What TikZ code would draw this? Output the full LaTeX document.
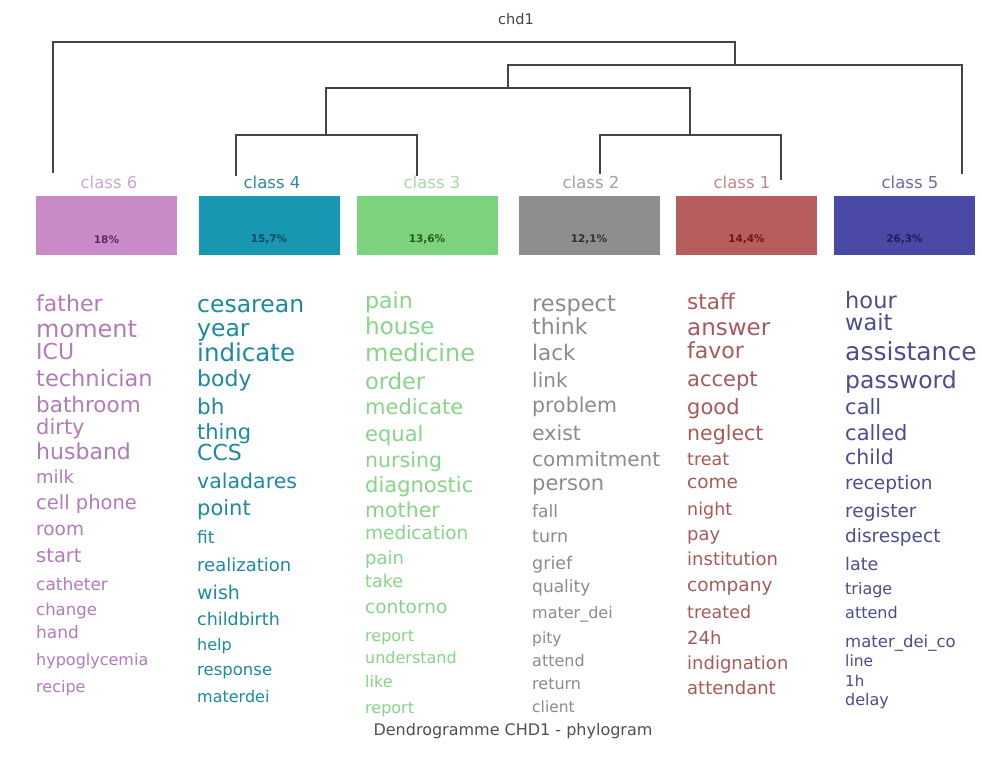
\documentclass[tikz,border=0pt]{standalone}
\usepackage{fontspec}
\setmainfont{DejaVu Sans}
\usepackage{tikz}
\usetikzlibrary{positioning}
\definecolor{boxsix}{HTML}{C98BC8}
\definecolor{boxfour}{HTML}{1897B2}
\definecolor{boxthree}{HTML}{7DD27D}
\definecolor{boxtwo}{HTML}{8E8E8E}
\definecolor{boxone}{HTML}{B85D5E}
\definecolor{boxfive}{HTML}{4A4AA6}
\definecolor{wsix}{HTML}{B27BBA}
\definecolor{wfour}{HTML}{1D8A9E}
\definecolor{wthree}{HTML}{88D488}
\definecolor{wtwo}{HTML}{8C8C8C}
\definecolor{wone}{HTML}{A85A5A}
\definecolor{wfive}{HTML}{4D4D8F}
\definecolor{lsix}{HTML}{C9A9CC}
\definecolor{lfour}{HTML}{2F8C9E}
\definecolor{lthree}{HTML}{A9D9A9}
\definecolor{ltwo}{HTML}{A2A2A2}
\definecolor{lone}{HTML}{B88C8C}
\definecolor{lfive}{HTML}{6C6C96}
\definecolor{psix}{HTML}{5B2A66}
\definecolor{pfour}{HTML}{0E4A5A}
\definecolor{pthree}{HTML}{1E5E1E}
\definecolor{ptwo}{HTML}{303030}
\definecolor{pone}{HTML}{6E1515}
\definecolor{pfive}{HTML}{1C1C5E}
\definecolor{treeline}{HTML}{444444}
\definecolor{captext}{HTML}{505050}

\begin{document}
\begin{tikzpicture}[x=1pt,y=-1pt,
  tree/.style={draw=treeline,line width=1.4pt},
  cbox/.style={rectangle,minimum width=141pt,minimum height=59pt,inner sep=0pt,fill=#1},
  clab/.style={font=\fontsize{16.5}{18}\selectfont,text=#1},
  pct/.style={font=\fontsize{10.5}{12}\selectfont\bfseries,text=#1},
  wrd/.style={anchor=west,inner sep=0pt,text height=.75em,text depth=.2em,yshift=-5pt,text=#1}
]
  \useasboundingbox (0,0) rectangle (981,758);
  \fill[white] (0,0) rectangle (981,758);

  \node[font=\fontsize{14.5}{16}\selectfont,text=treeline] (chd) at (516,19) {chd1};

  \node[cbox=boxsix] (b6) at (106.5,225) {};
  \node[cbox=boxfour] (b4) at (269,225) {};
  \node[cbox=boxthree] (b3) at (427,225) {};
  \node[cbox=boxtwo] (b2) at (589,225) {};
  \node[cbox=boxone] (b1) at (746.5,225) {};
  \node[cbox=boxfive] (b5) at (904.5,225) {};

  \node[pct=psix] (p6) at ([yshift=15pt]b6.south) {18\%};
  \node[pct=pfour] (p4) at ([yshift=15pt]b4.south) {15,7\%};
  \node[pct=pthree] (p3) at ([yshift=15pt]b3.south) {13,6\%};
  \node[pct=ptwo] (p2) at ([yshift=15pt]b2.south) {12,1\%};
  \node[pct=pone] (p1) at ([yshift=15pt]b1.south) {14,4\%};
  \node[pct=pfive] (p5) at ([yshift=15pt]b5.south) {26,3\%};

  \node[clab=lsix] (l6) at (109,182) {class 6};
  \node[clab=lfour] (l4) at (272,182) {class 4};
  \node[clab=lthree] (l3) at (432,182) {class 3};
  \node[clab=ltwo] (l2) at (591,182) {class 2};
  \node[clab=lone] (l1) at (742,182) {class 1};
  \node[clab=lfive] (l5) at (910,182) {class 5};

  \coordinate (t6) at (53,173);
  \coordinate (t4) at (236,176);
  \coordinate (t3) at (417,176);
  \coordinate (t2) at (600,174);
  \coordinate (t1) at (781,180);
  \coordinate (t5) at (962,174);
  \coordinate (j43) at (326,135);
  \coordinate (j21) at (690,135);
  \coordinate (jmid) at (508,88);
  \coordinate (jright) at (735,65);
  \coordinate (jroot) at (400,42);
  \draw[tree] (t4) |- (j43) -| (t3);
  \draw[tree] (t2) |- (j21) -| (t1);
  \draw[tree] (j43) |- (jmid) -| (j21);
  \draw[tree] (jmid) |- (jright) -| (t5);
  \draw[tree] (t6) |- (jroot) -| (jright);

  \foreach \w/\s/\y [count=\i] in {father/22/304,moment/24/330,ICU/22/352,
    technician/22.5/379,bathroom/21.5/405,dirty/21/427,husband/22/452,milk/18/476,
    cell phone/19.5/502,room/18.5/528,start/19.5/555,catheter/17/583,change/16.5/608,
    hand/17/631,hypoglycemia/16/658,recipe/16/685}
    \node[wrd=wsix,font=\fontsize{\s}{\s}\selectfont] (wsix-\i) at (36,\y) {\w};

  \foreach \w/\s/\y [count=\i] in {cesarean/23.5/305,year/23.5/329,indicate/24.5/354,
    body/22/379,bh/21.5/407,thing/21/432,CCS/22/453,valadares/20.5/481,point/21/508,
    fit/17/536,realization/18/564,wish/19/592,childbirth/17.5/618,help/16/643,
    response/16.5/668,materdei/16/695}
    \node[wrd=wfour,font=\fontsize{\s}{\s}\selectfont] (wfour-\i) at (197,\y) {\w};

  \foreach \w/\s/\y [count=\i] in {pain/22/301,house/23/327,medicine/24/354,
    order/22.5/382,medicate/21/407,equal/21/434,nursing/20.5/460,diagnostic/21/485,
    mother/20.5/510,medication/18.5/532,pain/18/557,take/17.5/580,contorno/18.5/606,
    report/16/634,understand/16/656,like/16/680,report/16/706}
    \node[wrd=wthree,font=\fontsize{\s}{\s}\selectfont] (wthree-\i) at (365,\y) {\w};

  \foreach \w/\s/\y [count=\i] in {respect/22.5/304,think/22/327,lack/21.5/353,
    link/20/380,problem/20.5/405,exist/20.5/433,commitment/20/459,person/21/483,
    fall/17/510,turn/17.5/535,grief/17.5/562,quality/17/585,mater\_dei/16/611,
    pity/15.5/636,attend/16/659,return/16/682,client/15.5/705}
    \node[wrd=wtwo,font=\fontsize{\s}{\s}\selectfont] (wtwo-\i) at (532,\y) {\w};

  \foreach \w/\s/\y [count=\i] in {staff/21.5/302,answer/23/328,favor/22/351,
    accept/21/379,good/21/407,neglect/20.5/433,treat/17.5/458,come/18.5/481,
    night/17.5/508,pay/18/533,institution/18/558,company/18.5/584,treated/17.5/611,
    24h/18/637,indignation/18/662,attendant/18/687}
    \node[wrd=wone,font=\fontsize{\s}{\s}\selectfont] (wone-\i) at (687,\y) {\w};

  \foreach \w/\s/\y [count=\i] in {hour/22.5/301,wait/22.5/323,assistance/25/353,
    password/23.5/381,call/21/407,called/21/433,child/20.5/457,reception/18.5/482,
    register/18.5/510,disrespect/18.5/535,late/17.5/563,triage/16/587,attend/16/611,
    mater\_dei\_co/16.5/640,line/15.5/659,1h/15/679,delay/16/698}
    \node[wrd=wfive,font=\fontsize{\s}{\s}\selectfont] (wfive-\i) at (845,\y) {\w};

  \node[font=\fontsize{16}{18}\selectfont,text=captext] (cap) at (513,731) {Dendrogramme CHD1 - phylogram};
\end{tikzpicture}
\end{document}
